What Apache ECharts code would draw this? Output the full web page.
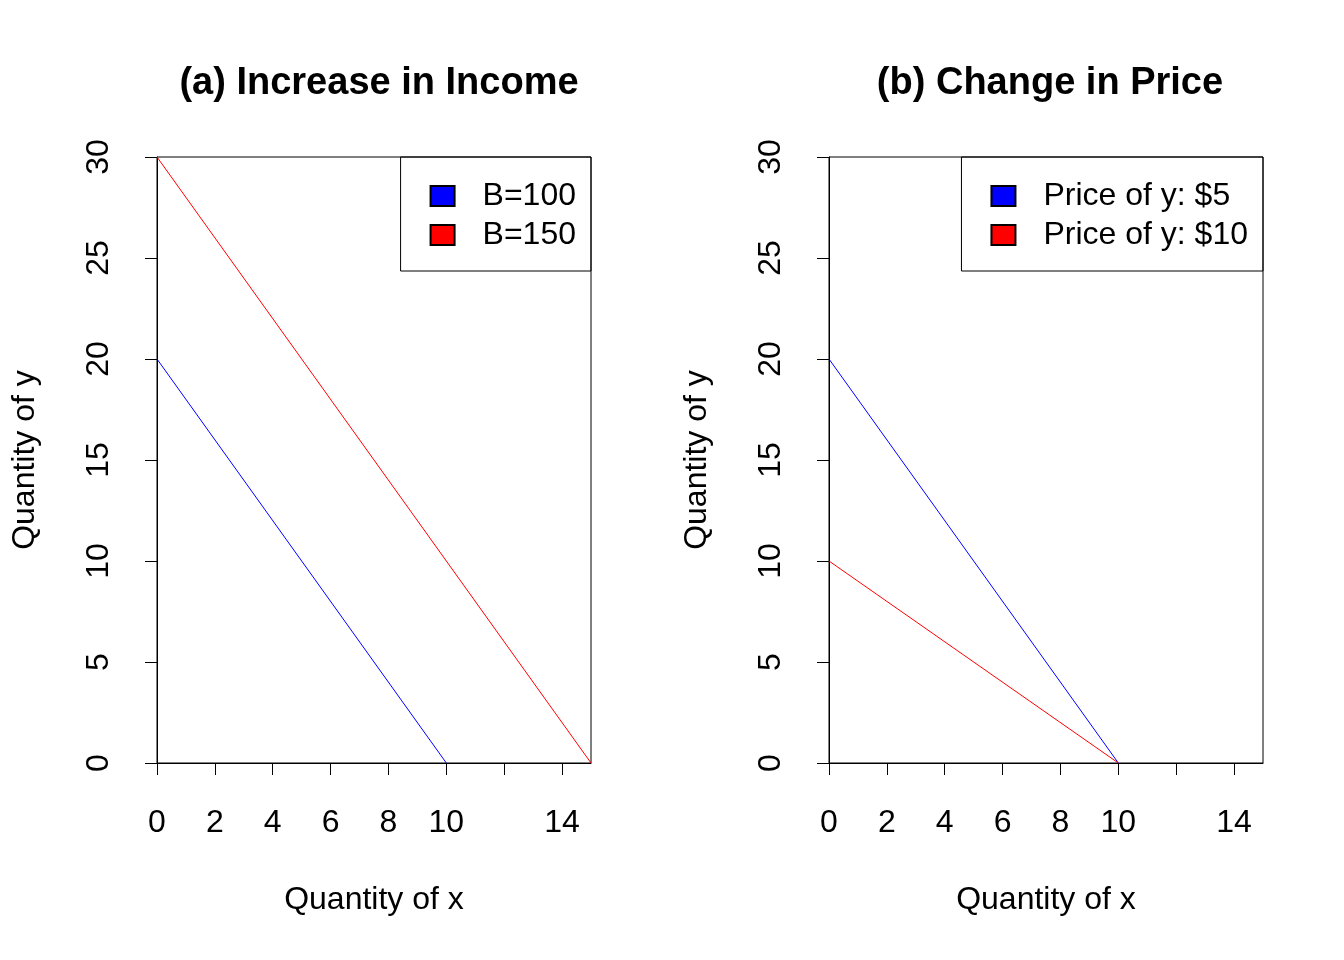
<!DOCTYPE html>
<html>
<head>
<meta charset="utf-8">
<script src="https://cdn.jsdelivr.net/npm/echarts@6/dist/echarts.min.js"></script>
<style>body{margin:0;background:#fff}#c{width:1344px;height:960px}</style>
</head>
<body>
<div id="c"></div>
<script>
// data
var incomeLow = [[0, 20], [10, 0]];     // B=100
var incomeHigh = [[0, 30], [15, 0]];    // B=150
var price5 = [[0, 20], [10, 0]];        // Price of y: $5
var price10 = [[0, 10], [10, 0]];       // Price of y: $10
var xTicks = [0, 2, 4, 6, 8, 10, 12, 14];
var xLabels = [0, 2, 4, 6, 8, 10, 14];

var font = 'Liberation Sans, Arial, sans-serif';
var chart = echarts.init(document.getElementById('c'));

function xAxis(i) {
  return {
    gridIndex: i, type: 'value', min: 0, max: 15,
    name: 'Quantity of x', nameLocation: 'middle', nameGap: 121,
    nameTextStyle: {fontFamily: font, fontSize: 32, color: '#000'},
    axisLine: {show: true, onZero: false, lineStyle: {color: '#000'}},
    axisTick: {show: true, length: 12, lineStyle: {color: '#000'}, customValues: xTicks},
    axisLabel: {fontFamily: font, fontSize: 32, color: '#000', margin: 44, customValues: xLabels},
    splitLine: {show: false}
  };
}
function yAxis(i) {
  return {
    gridIndex: i, type: 'value', min: 0, max: 30, interval: 5,
    name: 'Quantity of y', nameLocation: 'middle', nameGap: 116, nameRotate: 90,
    nameTextStyle: {fontFamily: font, fontSize: 32, color: '#000'},
    axisLine: {show: true, onZero: false, lineStyle: {color: '#000'}},
    axisTick: {show: true, length: 12, lineStyle: {color: '#000'}},
    axisLabel: {fontFamily: font, fontSize: 32, color: '#000', rotate: 90, margin: 42},
    splitLine: {show: false}
  };
}
function legend(right, names) {
  return {
    right: right, top: 157, orient: 'vertical',
    data: names,
    icon: 'rect', itemWidth: 24, itemHeight: 20, itemGap: 7,
    padding: [23, 15, 20, 29],
    borderColor: '#000', borderWidth: 1, borderRadius: 0,
    textStyle: {fontFamily: font, fontSize: 32, color: '#000', padding: [0, 0, 0, 23]}
  };
}
function line(name, data, color, i) {
  return {
    name: name, type: 'line', data: data, xAxisIndex: i, yAxisIndex: i,
    showSymbol: false, lineStyle: {color: color, width: 1},
    itemStyle: {color: color, borderColor: '#000', borderWidth: 1},
    animation: false
  };
}

chart.setOption({
  animation: false,
  title: [
    {text: '(a) Increase in Income', left: 374, top: 60, textAlign: 'center',
     textStyle: {fontFamily: font, fontSize: 38, fontWeight: 'bold', color: '#000'}},
    {text: '(b) Change in Price', left: 1045, top: 60, textAlign: 'center',
     textStyle: {fontFamily: font, fontSize: 38, fontWeight: 'bold', color: '#000'}}
  ],
  grid: [
    {left: 157, right: 753, top: 157, bottom: 197, show: true, borderColor: '#000', borderWidth: 1},
    {left: 829, right: 81, top: 157, bottom: 197, show: true, borderColor: '#000', borderWidth: 1}
  ],
  xAxis: [xAxis(0), xAxis(1)],
  yAxis: [yAxis(0), yAxis(1)],
  legend: [
    legend(753, ['B=100', 'B=150']),
    legend(81, ['Price of y: $5', 'Price of y: $10'])
  ],
  series: [
    line('B=100', incomeLow, '#0000ff', 0),
    line('B=150', incomeHigh, '#ff0000', 0),
    line('Price of y: $5', price5, '#0000ff', 1),
    line('Price of y: $10', price10, '#ff0000', 1)
  ]
});
</script>
</body>
</html>
